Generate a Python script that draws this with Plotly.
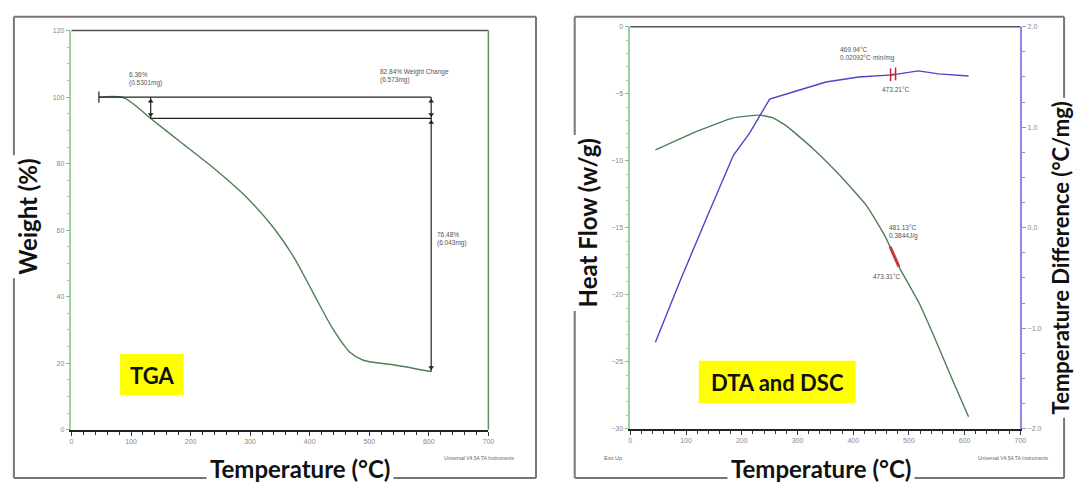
import plotly.graph_objects as go

W, H = 1080, 486

# ---------------- data ----------------
# TGA (left)
tga_temp = [46, 88, 133, 183, 239, 295, 339, 373, 406, 439, 467, 490, 545, 604]
tga_weight = [100.0, 99.8, 93.6, 86.5, 78.6, 69.7, 60.8, 52.0, 41.1, 30.3, 23.4, 20.9, 19.4, 17.5]

# step annotation (TGA)
step_temp = [46, 133, 604]
step_weight = [100.0, 93.6, 17.5]

# DSC heat flow (right, left axis)
hf_temp = [45, 114, 185, 232, 256, 280, 328, 375, 423, 458, 482, 518, 547, 577, 607]
hf_value = [-9.2, -7.9, -6.8, -6.6, -6.8, -7.4, -9.1, -11.05, -13.3, -15.7, -17.9, -20.6, -23.3, -26.25, -29.1]

# DTA temperature difference (right, right axis)
dt_temp = [45, 90, 137, 185, 214, 250, 292, 351, 410, 470, 517, 553, 607]
dt_value = [-1.14, -0.52, 0.10, 0.72, 0.94, 1.28, 1.35, 1.45, 1.50, 1.52, 1.56, 1.53, 1.51]

# red event markers
dta_evt_temp = [467, 476]
dta_evt_value = [1.52, 1.53]
hf_evt_temp = [466, 474, 482]
hf_evt_value = [-16.4, -17.1, -17.9]

x_ticks = [0, 100, 200, 300, 400, 500, 600, 700]


def px(x):
    return x / W


def py(y):
    return 1 - y / H


fig = go.Figure()

GREEN = "#4f7f55"
BLUE = "#4848c8"

fig.add_trace(go.Scatter(x=tga_temp, y=tga_weight, mode="lines", line=dict(color=GREEN, width=1.4, shape="spline", smoothing=0.8),
                         xaxis="x", yaxis="y", showlegend=False, hoverinfo="skip"))

# step lines
fig.add_trace(go.Scatter(x=[step_temp[0], step_temp[2]], y=[step_weight[0], step_weight[0]], mode="lines",
                         line=dict(color="#222", width=1.2), xaxis="x", yaxis="y", showlegend=False))
fig.add_trace(go.Scatter(x=[step_temp[1], step_temp[2]], y=[step_weight[1], step_weight[1]], mode="lines",
                         line=dict(color="#222", width=1.2), xaxis="x", yaxis="y", showlegend=False))
fig.add_trace(go.Scatter(x=[step_temp[0]], y=[step_weight[0]], mode="markers",
                         marker=dict(symbol="line-ns", size=8, line=dict(color="#222", width=1.2)),
                         xaxis="x", yaxis="y", showlegend=False))
fig.add_trace(go.Scatter(x=[step_temp[2], step_temp[2]], y=[step_weight[0], step_weight[2]], mode="lines",
                         line=dict(color="#222", width=1.2), xaxis="x", yaxis="y", showlegend=False))
fig.add_trace(go.Scatter(x=[step_temp[1], step_temp[1]], y=[step_weight[0], step_weight[1]], mode="lines",
                         line=dict(color="#222", width=1.2), xaxis="x", yaxis="y", showlegend=False))
# arrow heads
fig.add_trace(go.Scatter(x=[step_temp[1], step_temp[2], step_temp[2]], y=[step_weight[1] + 1.2, step_weight[1] + 1.2, step_weight[2] + 1.2],
                         mode="markers", marker=dict(symbol="triangle-down", size=5, color="#222"),
                         xaxis="x", yaxis="y", showlegend=False))
fig.add_trace(go.Scatter(x=[step_temp[1], step_temp[2], step_temp[2]], y=[step_weight[0] - 1.2, step_weight[0] - 1.2, step_weight[1] - 1.2],
                         mode="markers", marker=dict(symbol="triangle-up", size=5, color="#222"),
                         xaxis="x", yaxis="y", showlegend=False))

# right chart curves
fig.add_trace(go.Scatter(x=hf_temp, y=hf_value, mode="lines", line=dict(color=GREEN, width=1.4, shape="spline", smoothing=0.4),
                         xaxis="x2", yaxis="y2", showlegend=False, hoverinfo="skip"))
fig.add_trace(go.Scatter(x=dt_temp, y=dt_value, mode="lines", line=dict(color=BLUE, width=1.4),
                         xaxis="x2", yaxis="y3", showlegend=False, hoverinfo="skip"))
fig.add_trace(go.Scatter(x=dta_evt_temp, y=dta_evt_value, mode="lines+markers", line=dict(color="#cc2233", width=1.5),
                         marker=dict(symbol="line-ns", size=9, line=dict(color="#cc2233", width=1.5)),
                         xaxis="x2", yaxis="y3", showlegend=False))
fig.add_trace(go.Scatter(x=hf_evt_temp, y=hf_evt_value, mode="lines", line=dict(color="#c23a3a", width=3),
                         xaxis="x2", yaxis="y2", showlegend=False))

tickfont = dict(family="Liberation Sans", size=7, color="#888")
common_x = dict(range=[0, 700], tickvals=x_ticks, showline=True, linecolor="#222", linewidth=1.5,
                ticks="outside", ticklen=4, tickcolor="#333", tickfont=tickfont,
                minor=dict(dtick=20, ticks="outside", ticklen=3, tickcolor="#333"),
                showgrid=False, zeroline=False, fixedrange=True)

fig.update_layout(
    width=W, height=H, margin=dict(l=0, r=0, t=0, b=0),
    paper_bgcolor="white", plot_bgcolor="white",
    xaxis=dict(domain=[px(70), px(490)], anchor="y", **common_x),
    yaxis=dict(domain=[py(432), py(27)], anchor="x", range=[0, 120], dtick=20, showline=True,
               linecolor="#9fd09f", linewidth=1.5, ticks="outside", ticklen=4, tickcolor="#7fbf7f",
               tickfont=tickfont, minor=dict(dtick=5, ticks="outside", ticklen=3, tickcolor="#9fd09f"),
               showgrid=False, zeroline=False),
    xaxis2=dict(domain=[px(633), px(1026)], anchor="y2", **common_x),
    yaxis2=dict(domain=[py(431), py(23)], anchor="x2", range=[-30, 0], dtick=5, showline=True,
                linecolor="#9fd09f", linewidth=1.5, ticks="outside", ticklen=4, tickcolor="#7fbf7f",
                tickfont=tickfont, minor=dict(dtick=1, ticks="outside", ticklen=3, tickcolor="#9fd09f"),
                showgrid=False, zeroline=False),
    yaxis3=dict(overlaying="y2", anchor="x2", side="right", range=[-2, 2], dtick=1, tickformat=".1f",
                showline=True, linecolor="#8a8ae0", linewidth=1.5, ticks="outside", ticklen=4,
                tickcolor="#8a8ae0", tickfont=tickfont,
                minor=dict(dtick=0.25, ticks="outside", ticklen=3, tickcolor="#8a8ae0"),
                showgrid=False, zeroline=False),
)

shapes = []
FR = dict(color="#777", width=2)


def seg(x0, y0, x1, y1, line):
    shapes.append(dict(type="line", xref="paper", yref="paper", x0=px(x0), y0=py(y0), x1=px(x1), y1=py(y1), line=line))


# outer frames
for (l, r) in [(12, 538), (577, 1070)]:
    seg(l, 13, r, 13, FR)
    seg(l, 13, l, 481, FR)
    seg(r, 13, r, 481, FR)
    seg(l, 481, r, 481, FR)

# inner plot frames (top / right)
seg(70, 27, 490, 27, dict(color="#555", width=1.5))
seg(490, 27, 490, 432, dict(color="#6a8a6a", width=1.5))
seg(633, 23, 1026, 23, dict(color="#555", width=1.5))

# yellow boxes
shapes.append(dict(type="rect", xref="paper", yref="paper", x0=px(119), x1=px(183), y0=py(397), y1=py(355),
                   fillcolor="#ffff00", line=dict(width=0), layer="above"))
shapes.append(dict(type="rect", xref="paper", yref="paper", x0=px(702), x1=px(860), y0=py(405), y1=py(362),
                   fillcolor="#ffff00", line=dict(width=0), layer="above"))
fig.update_layout(shapes=shapes)

TITLE = dict(family="Lato", size=24, color="#111")
TITLE_S = dict(family="Lato", size=22, color="#111")
small = dict(family="Liberation Sans", size=6.5, color="#555")
ann = []


def text(x, y, t, font, angle=0, bg=None, xanchor="center", align="center"):
    d = dict(xref="paper", yref="paper", x=px(x), y=py(y), text=t, showarrow=False, font=font,
             textangle=angle, xanchor=xanchor, yanchor="middle", align=align)
    if bg:
        d.update(bgcolor=bg, borderpad=3)
    ann.append(d)


text(26, 216, "<b>Weight (%)</b>", TITLE, angle=-90, bg="white")
text(300, 471, "<b>Temperature (°C)</b>", TITLE, bg="white")
text(590, 222, "<b>Heat Flow (w/g)</b>", TITLE, angle=-90, bg="white")
text(825, 471, "<b>Temperature (°C)</b>", TITLE, bg="white")
text(1066, 258, "<b>Temperature Difference (°C/mg)</b>", TITLE_S, angle=-90, bg="white")

text(151, 377, "<b>TGA</b>", dict(family="Lato", size=22, color="#111"))
text(781, 384, "<b>DTA and DSC</b>", dict(family="Lato", size=22, color="#111"))

text(126, 76, "6.36%<br>(0.5301mg)", small, xanchor="left", align="left")
text(379, 73, "82.84% Weight Change<br>(6.573mg)", small, xanchor="left", align="left")
text(436, 238, "76.48%<br>(6.043mg)", small, xanchor="left", align="left")
text(842, 51, "469.94°C<br>0.02092°C·min/mg", small, xanchor="left", align="left")
text(885, 87, "473.21°C", small, xanchor="left", align="left")
text(892, 231, "481.13°C<br>0.3844J/g", small, xanchor="left", align="left")
text(875, 276, "473.31°C", small, xanchor="left", align="left")

text(443, 461, "Universal V4.5A TA Instruments", dict(family="Liberation Sans", size=5, color="#666"), xanchor="left")
text(981, 461, "Universal V4.5A TA Instruments", dict(family="Liberation Sans", size=5, color="#666"), xanchor="left")
text(604, 461, "Exo Up", dict(family="Liberation Sans", size=5.5, color="#666"), xanchor="left")

fig.update_layout(annotations=ann)

fig.write_html("out.html", config={"displayModeBar": False},
               post_script="document.body.style.margin='0';document.body.style.overflow='hidden';")
